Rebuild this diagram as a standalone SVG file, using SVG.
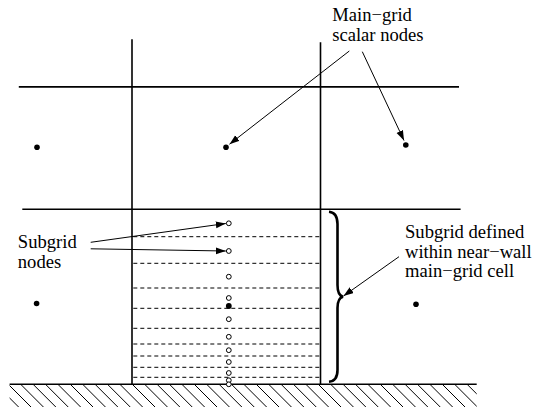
<svg xmlns="http://www.w3.org/2000/svg" width="537" height="410" viewBox="0 0 537 410">
<style>
.grid{stroke:#000;stroke-width:1.6;fill:none}
.dash{stroke:#000;stroke-width:1;stroke-dasharray:4 3;fill:none}
.hatch{stroke:#000;stroke-width:1}
.dot{fill:#000}
.sub{fill:#fff;stroke:#000;stroke-width:1}
.arr{stroke:#000;stroke-width:1;fill:none;marker-end:url(#ah)}
.lbl{font-family:"Liberation Serif","Times New Roman",serif;font-size:18.6px;fill:#000}
</style>
<defs>
<marker id="ah" markerUnits="userSpaceOnUse" markerWidth="11" markerHeight="8" refX="10" refY="3.5" orient="auto">
<path d="M0,0 L10,3.5 L0,7 z" fill="#000"/>
</marker>
<clipPath id="wallclip"><rect x="9.6" y="384" width="467.1" height="23"/></clipPath>
</defs>

<g id="main-grid">
<line class="grid" x1="18.8" y1="86.9" x2="459" y2="86.9"/>
<line class="grid" x1="22.3" y1="209.3" x2="460.6" y2="209.3"/>
<line class="grid" x1="132" y1="39.3" x2="132" y2="384.3"/>
<line class="grid" x1="320.5" y1="42.3" x2="320.5" y2="384.3"/>
</g>

<g id="wall">
<line class="grid" x1="9.6" y1="384.3" x2="476.7" y2="384.3"/>
<g clip-path="url(#wallclip)">
<path class="hatch" d="M-4.4,384 l23,23 M8,384 l23,23 M20.4,384 l23,23 M32.8,384 l23,23 M45.2,384 l23,23 M57.6,384 l23,23 M70,384 l23,23 M82.4,384 l23,23 M94.8,384 l23,23 M107.2,384 l23,23 M119.6,384 l23,23 M132,384 l23,23 M144.4,384 l23,23 M156.8,384 l23,23 M169.2,384 l23,23 M181.6,384 l23,23 M194,384 l23,23 M206.4,384 l23,23 M218.8,384 l23,23 M231.2,384 l23,23 M243.6,384 l23,23 M256,384 l23,23 M268.4,384 l23,23 M280.8,384 l23,23 M293.2,384 l23,23 M305.6,384 l23,23 M318,384 l23,23 M330.4,384 l23,23 M342.8,384 l23,23 M355.2,384 l23,23 M367.6,384 l23,23 M380,384 l23,23 M392.4,384 l23,23 M404.8,384 l23,23 M417.2,384 l23,23 M429.6,384 l23,23 M442,384 l23,23 M454.4,384 l23,23 M466.8,384 l23,23"/>
</g>
</g>

<g id="subgrid-lines">
<path class="dash" d="M133.3,236.7H319.5 M133.3,263.3H319.5 M133.3,288H319.5 M133.3,308.3H319.5 M133.3,328.3H319.5 M133.3,344H319.5 M133.3,356H319.5 M133.3,367.3H319.5 M133.3,377.3H319.5"/>
</g>

<g id="main-grid-nodes">
<circle class="dot" cx="37" cy="147.3" r="2.8"/>
<circle class="dot" cx="226" cy="147.3" r="2.8"/>
<circle class="dot" cx="405.8" cy="145" r="2.8"/>
<circle class="dot" cx="36.6" cy="303.5" r="2.8"/>
<circle class="dot" cx="416" cy="304.3" r="2.8"/>
</g>

<g id="subgrid-nodes">
<circle class="sub" cx="228.8" cy="223.3" r="2.4"/>
<circle class="sub" cx="228.8" cy="251" r="2.4"/>
<circle class="sub" cx="228.8" cy="276.7" r="2.4"/>
<circle class="sub" cx="228.8" cy="298" r="2.4"/>
<circle class="dot" cx="228.8" cy="306" r="2.9"/>
<circle class="sub" cx="228.8" cy="319.2" r="2.4"/>
<circle class="sub" cx="228.8" cy="336.8" r="2.4"/>
<circle class="sub" cx="228.8" cy="350.2" r="2.4"/>
<circle class="sub" cx="228.8" cy="362" r="2.4"/>
<circle class="sub" cx="228.8" cy="373" r="2.4"/>
<circle class="sub" cx="228.8" cy="380.3" r="2.4"/>
<circle class="sub" cx="228.8" cy="384.3" r="2.4"/>
</g>

<g id="brace">
<path d="M329,211.7 Q337.5,212.5 337.5,224 L337.5,285 Q337.5,295.5 343,296.7 Q337.5,298 337.5,308 L337.5,370 Q337.5,381 329,381.7" fill="none" stroke="#000" stroke-width="2.6"/>
</g>

<g id="label-main">
<text class="lbl" x="332.2" y="21">Main−grid</text>
<text class="lbl" x="332.2" y="41">scalar nodes</text>
</g>
<g id="label-subgrid-nodes">
<text class="lbl" x="17.8" y="248.3">Subgrid</text>
<text class="lbl" x="17.8" y="267.7">nodes</text>
</g>
<g id="label-subgrid-defined">
<text class="lbl" x="405" y="238.3">Subgrid defined</text>
<text class="lbl" x="405" y="257.5">within near−wall</text>
<text class="lbl" x="405" y="276.7">main−grid cell</text>
</g>

<g id="connectors">
<line class="arr" x1="349.3" y1="51" x2="229.5" y2="144.2"/>
<line class="arr" x1="362.3" y1="51.7" x2="404" y2="140.5"/>
<line class="arr" x1="90.7" y1="242.3" x2="225.8" y2="223.5"/>
<line class="arr" x1="90.7" y1="248.8" x2="225.8" y2="251"/>
<line class="arr" x1="399" y1="256.7" x2="343.5" y2="296"/>
</g>
</svg>
